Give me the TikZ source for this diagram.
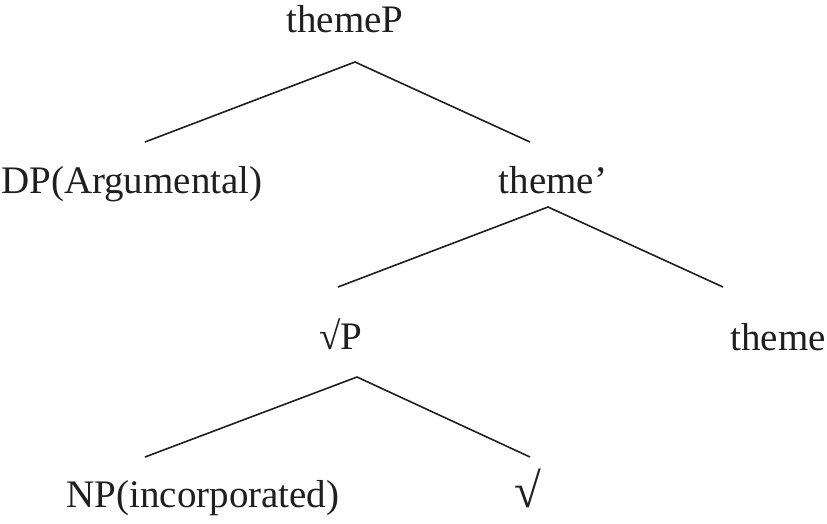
\documentclass[tikz,border=0pt]{standalone}
\usepackage{fontspec}
\setmainfont{Liberation Serif}
\begin{document}
\begin{tikzpicture}[x=1pt,y=-1pt,
  lbl/.style={anchor=base,inner sep=0pt,font=\fontsize{39}{46}\selectfont,text=black!88},
  edge/.style={line width=1.6pt,black!88}]
\useasboundingbox (0,0) rectangle (827,523);
\node[lbl] (themeP) at (345,32) {themeP};
\node[lbl,anchor=base west] (dp) at (1,193) {DP(Argumental)};
\node[lbl] (themebar) at (553,193) {theme’};
\node[lbl] (rootP) at (341,349) {√P};
\node[lbl,anchor=base east] (theme) at (826,350) {theme};
\node[lbl] (np) at (203,507) {NP(incorporated)};
\node[lbl] (root) at (528,507) {\scalebox{1.25}{√}};
\coordinate (a1) at (355,62);
\coordinate (a1l) at (145,142);
\coordinate (a1r) at (530,142);
\coordinate (a2) at (548,207);
\coordinate (a2l) at (338,287);
\coordinate (a2r) at (723,287);
\coordinate (a3) at (357,377);
\coordinate (a3l) at (145,457);
\coordinate (a3r) at (530,457);
\draw[edge] (a1l) -- (a1) -- (a1r);
\draw[edge] (a2l) -- (a2) -- (a2r);
\draw[edge] (a3l) -- (a3) -- (a3r);
\end{tikzpicture}
\end{document}
